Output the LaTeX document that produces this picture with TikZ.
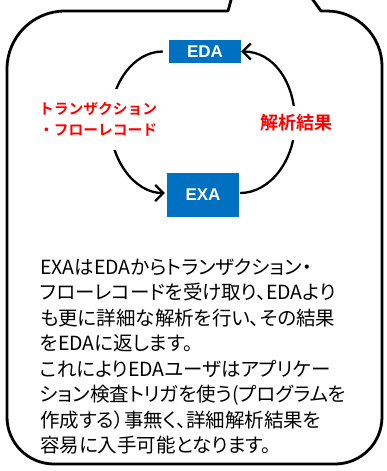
\documentclass[tikz,border=0pt]{standalone}
\usepackage{fontspec}
\setmainfont{Liberation Sans}
\newfontfamily\jp[RawFeature=+palt]{Noto Sans CJK JP}
\newfontfamily\jpb{Noto Sans CJK JP Bold}
\usetikzlibrary{arrows.meta}
\definecolor{boxblue}{HTML}{0070C0}
\begin{document}
\begin{tikzpicture}[x=1pt,y=-1pt,
  callout/.style={line width=2.8pt, line join=round},
  blk/.style={fill=boxblue, text=white, inner sep=0pt,
    font=\bfseries\fontsize{17}{17}\selectfont},
  flow/.style={line width=2.3pt, -{Straight Barb[length=8pt,width=16pt]}},
  redlbl/.style={text=red, fill=white, align=center, inner xsep=3pt},
  bodyline/.style={anchor=base west, inner sep=0pt,
    font=\jp\fontsize{19.5}{25.5}\selectfont}]
\useasboundingbox (0,0) rectangle (386,471);
\clip (0,0) rectangle (386,471);
% speech-bubble outline
\draw[callout] (232.1,-4) -- (228,11) -- (65,11)
  .. controls (33,11) and (7,37) .. (7,69) -- (7,417)
  .. controls (7,443) and (28,464) .. (54,464) -- (335,464)
  .. controls (361,464) and (382,443) .. (382,417) -- (382,66)
  .. controls (382,36) and (357,11) .. (327,11) -- (321,11) -- (310.1,-4);
% boxes
\node[blk, minimum width=72pt, minimum height=23pt] (eda) at (205,51.5) {EDA};
\node[blk, minimum width=72pt, minimum height=44pt] (exa) at (203,195) {EXA};
% arc waypoints
\coordinate (L) at (110,122);
\coordinate (R) at (295,122);
% arrows
\draw[flow] ([xshift=-6pt]eda.west) .. controls +(-30,0) and +(0,-37) .. (L)
  .. controls +(0,38) and +(-30,0) .. ([xshift=-2pt,yshift=2pt]exa.west);
\draw[flow] ([xshift=1pt,yshift=2pt]exa.east) .. controls +(30,0) and +(0,38) .. (R)
  .. controls +(0,-40) and +(32,0) .. ([xshift=0pt]eda.east);
% labels
\node[redlbl, inner ysep=13pt, font=\jpb\fontsize{14.75}{21}\selectfont] (lt) at (98,119.5)
  {トランザクション\\・フローレコード};
\node[redlbl, inner ysep=9pt, font=\jpb\fontsize{18}{20}\selectfont] (rt) at (296.5,123)
  {解析結果};
% body text
\node[bodyline] (t1) at (40,274.4) {EXAはEDAからトランザクション・};
\node[bodyline] (t2) at (40,299.9) {フローレコードを受け取り、EDAより};
\node[bodyline] (t3) at (40,325.4) {も更に詳細な解析を行い、その結果};
\node[bodyline] (t4) at (40,350.9) {をEDAに返します。};
\node[bodyline] (t5) at (40,376.4) {これによりEDAユーザはアプリケー};
\node[bodyline] (t6) at (40,401.9) {ション検査トリガを使う(プログラムを};
\node[bodyline] (t7) at (40,427.4) {作成する）事無く、詳細解析結果を};
\node[bodyline] (t8) at (40,452.9) {容易に入手可能となります。};
\end{tikzpicture}
\end{document}
